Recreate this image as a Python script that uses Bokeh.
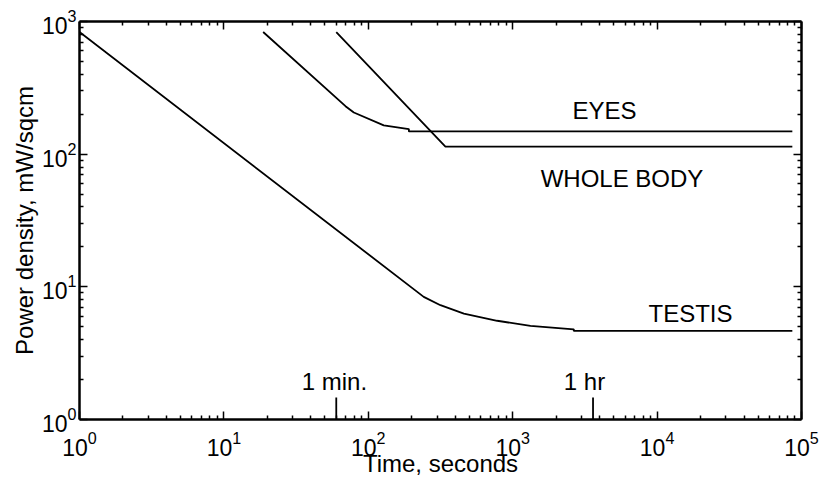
from bokeh.plotting import figure
from bokeh.models import LogAxis, FixedTicker, Label, Arrow
from bokeh.embed import file_html
from bokeh.resources import INLINE

# ---- data ----
testis_t = [1, 242, 316, 459, 781, 1328, 2650, 2650, 86400]
testis_p = [833, 8.4, 7.27, 6.29, 5.55, 5.07, 4.78, 4.65, 4.65]

eyes_t = [18.7, 69.5, 79.4, 128, 191, 191, 86400]
eyes_p = [833, 230, 206, 165, 154.5, 148.4, 148.4]

body_t = [60, 342, 86400]
body_p = [833, 114, 114]

marker_t = [60, 3600]
marker_text = ["1 min.", "1 hr"]

x_ticks = [1, 10, 100, 1000, 10000, 100000]
y_ticks = [1, 10, 100, 1000]

FONT = "Liberation Sans"

p = figure(x_axis_type="log", y_axis_type="log",
           x_range=(1, 1e5), y_range=(1, 1e3),
           width=823, height=479,
           min_border_left=79, min_border_right=22,
           min_border_top=21, min_border_bottom=55,
           output_backend="svg", toolbar_location=None)
p.xgrid.visible = False
p.ygrid.visible = False
p.outline_line_color = None
p.background_fill_color = "white"
p.border_fill_color = "white"

def minor(ticks):
    out = []
    for t in ticks[:-1]:
        out += [t * k for k in range(2, 10)]
    return out

def style(ax, ticks, labels=True):
    ax.ticker = FixedTicker(ticks=ticks, minor_ticks=minor(ticks))
    ax.axis_line_width = 2.5
    ax.axis_line_color = "black"
    ax.major_tick_in = 8
    ax.major_tick_out = 0
    ax.minor_tick_in = 4
    ax.minor_tick_out = 0
    ax.major_tick_line_width = 1.5
    ax.minor_tick_line_width = 1.5
    ax.major_tick_line_color = "black"
    ax.minor_tick_line_color = "black"
    if labels:
        ax.major_label_text_font = FONT
        ax.major_label_text_font_size = "23px"
        ax.major_label_text_color = "black"
        ax.axis_label_text_font = FONT
        ax.axis_label_text_font_size = "24px"
        ax.axis_label_text_font_style = "normal"
        ax.axis_label_text_color = "black"
    else:
        ax.major_label_text_font_size = "2px"
        ax.major_label_text_alpha = 0
        ax.major_label_standoff = 0

style(p.xaxis[0], x_ticks)
style(p.yaxis[0], y_ticks)
p.xaxis[0].major_label_standoff = 11
p.yaxis[0].major_label_standoff = 3
p.xaxis[0].axis_label = "Time, seconds"
p.yaxis[0].axis_label = "Power density, mW/sqcm"
p.xaxis[0].axis_label_standoff = -9
p.yaxis[0].axis_label_standoff = 1

top = LogAxis()
style(top, x_ticks, labels=False)
p.add_layout(top, "above")
right = LogAxis()
style(right, y_ticks, labels=False)
p.add_layout(right, "right")

for t, pw in [(testis_t, testis_p), (eyes_t, eyes_p), (body_t, body_p)]:
    p.line(t, pw, line_color="black", line_width=1.8)

# time markers crossing the bottom axis
for t in marker_t:
    p.add_layout(Arrow(start=None, end=None, x_start=t, y_start=0.814,
                       x_end=t, y_end=1.466, line_color="black", line_width=1.8))

def lab(x, y, text):
    p.add_layout(Label(x=x, y=y, text=text, text_font=FONT, text_font_size="24px",
                       text_color="black", text_align="center",
                       text_baseline="alphabetic"))

lab(4325, 214, "EYES")
lab(5715, 65, "WHOLE BODY")
lab(17030, 6.3, "TESTIS")
lab(58.3, 1.93, marker_text[0])
lab(3141, 1.93, marker_text[1])

open("out.html", "w").write(file_html(p, INLINE))
